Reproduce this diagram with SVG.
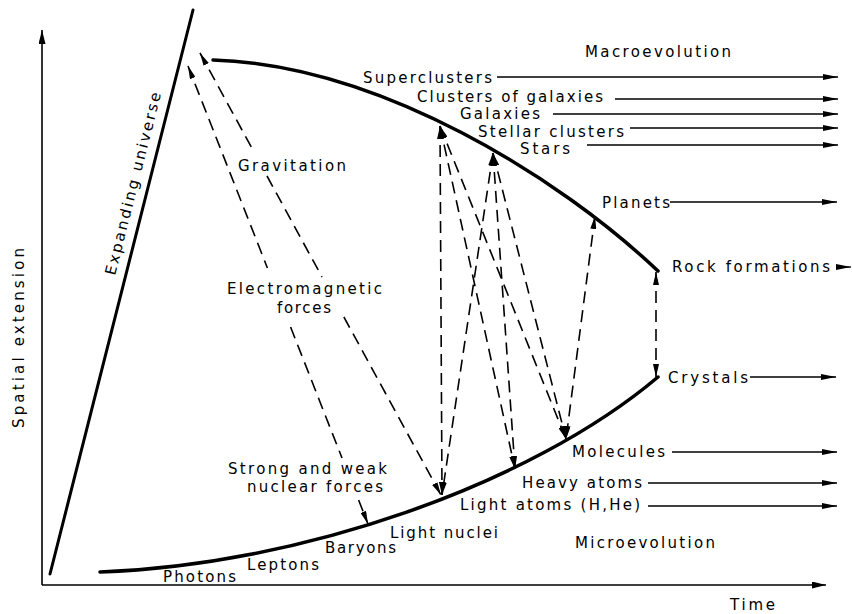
<svg xmlns="http://www.w3.org/2000/svg" width="852" height="614" viewBox="0 0 852 614">
<defs>
<style>
text{font-family:"DejaVu Sans","Liberation Sans",sans-serif;font-size:15px;fill:#000}
.curve{fill:none;stroke:#000;stroke-width:3.5;stroke-linecap:round}
.axis{fill:none;stroke:#000;stroke-width:1.6;marker-end:url(#ah)}
.dash{fill:none;stroke:#000;stroke-width:1.6;stroke-dasharray:12 7;marker-start:url(#dh);marker-end:url(#dh)}
.harr{fill:none;stroke:#000;stroke-width:1.3;marker-end:url(#hh)}
</style>
<marker id="dh" viewBox="0 0 13 6" refX="13" refY="3" markerWidth="13" markerHeight="6" markerUnits="userSpaceOnUse" orient="auto-start-reverse"><path d="M0,0 L13,3 L0,6 z" fill="#000"/></marker>
<marker id="hh" viewBox="0 0 15 6" refX="15" refY="3" markerWidth="15" markerHeight="6" markerUnits="userSpaceOnUse" orient="auto"><path d="M0,0 L15,3 L0,6 z" fill="#000"/></marker>
<marker id="ah" viewBox="0 0 14 7" refX="14" refY="3.5" markerWidth="14" markerHeight="7" markerUnits="userSpaceOnUse" orient="auto"><path d="M0,0 L14,3.5 L0,7 z" fill="#000"/></marker>
</defs>
<rect width="852" height="614" fill="#fff"/>
<g id="frame">
<path class="axis" d="M42,585 V30"/>
<path class="axis" d="M42,585 H826"/>
<path class="curve" style="stroke-width:3" d="M50,574 L193,10"/>
<path class="curve" d="M213,60 C380,65 560,178 658,271"/>
<path class="curve" d="M100,572 C300,565 530,485 658,377"/>
</g>
<g id="connectors">
<path class="dash" d="M188,66 L267.4,268 M290.6,327 L342,458 M358.6,500 L368,524"/>
<path class="dash" d="M200,53 L252.9,150 M267,176 L322,277 M343.9,317 L441,495"/>
<path class="dash" d="M440,126 L442,495"/>
<path class="dash" d="M440,126 L515,469"/>
<path class="dash" d="M440,126 L566,439"/>
<path class="dash" d="M493,153 L442,495"/>
<path class="dash" d="M493,153 L515,469"/>
<path class="dash" d="M493,153 L566,439"/>
<path class="dash" d="M595,216 L566,439"/>
<path class="dash" d="M656,272 L656,377"/>
<path class="harr" d="M497,77 H838"/>
<path class="harr" d="M615,99 H838"/>
<path class="harr" d="M553,114 H838"/>
<path class="harr" d="M630,128 H838"/>
<path class="harr" d="M587,145 H838"/>
<path class="harr" d="M670,202 H837"/>
<path class="harr" d="M836,267 H851"/>
<path class="harr" d="M750,377 H836"/>
<path class="harr" d="M672,452 H837"/>
<path class="harr" d="M648,483 H837"/>
<path class="harr" d="M648,506 H837"/>
</g>
<g id="axis-labels">
<text id="spatial" transform="translate(24,428) rotate(-90)" textLength="180">Spatial extension</text>
<text id="time" x="730" y="610" textLength="45">Time</text>
<text id="expanding" transform="translate(115,276) rotate(-75.8)" textLength="188">Expanding universe</text>
</g>
<g id="n-macro"><text x="585" y="57" textLength="146">Macroevolution</text></g>
<g id="n-superclusters"><text x="363" y="83" textLength="129">Superclusters</text></g>
<g id="n-clusters"><text x="417" y="101.5" textLength="186">Clusters of galaxies</text></g>
<g id="n-galaxies"><text x="460" y="119" textLength="80">Galaxies</text></g>
<g id="n-stellar"><text x="478" y="136.5" textLength="146">Stellar clusters</text></g>
<g id="n-stars"><text x="520" y="154" textLength="50">Stars</text></g>
<g id="n-planets"><text x="602" y="208" textLength="68">Planets</text></g>
<g id="n-rock"><text x="672" y="272" textLength="158">Rock formations</text></g>
<g id="n-crystals"><text x="668" y="383" textLength="80">Crystals</text></g>
<g id="n-molecules"><text x="572" y="457" textLength="93">Molecules</text></g>
<g id="n-heavy"><text x="522" y="488" textLength="120">Heavy atoms</text></g>
<g id="n-light-atoms"><text x="460" y="510" textLength="180">Light atoms (H,He)</text></g>
<g id="n-micro"><text x="575" y="548" textLength="140">Microevolution</text></g>
<g id="n-light-nuclei"><text x="390" y="538" textLength="108">Light nuclei</text></g>
<g id="n-baryons"><text x="325" y="553" textLength="71">Baryons</text></g>
<g id="n-leptons"><text x="247" y="570" textLength="72">Leptons</text></g>
<g id="n-photons"><text x="163" y="582" textLength="73">Photons</text></g>
<g id="n-gravitation"><text x="238" y="171" textLength="108">Gravitation</text></g>
<g id="n-em"><text x="227" y="294" textLength="155">Electromagnetic</text><text x="277" y="313" textLength="54">forces</text></g>
<g id="n-nuclear"><text x="228" y="474" textLength="159">Strong and weak</text><text x="247" y="492" textLength="136">nuclear forces</text></g>
</svg>
